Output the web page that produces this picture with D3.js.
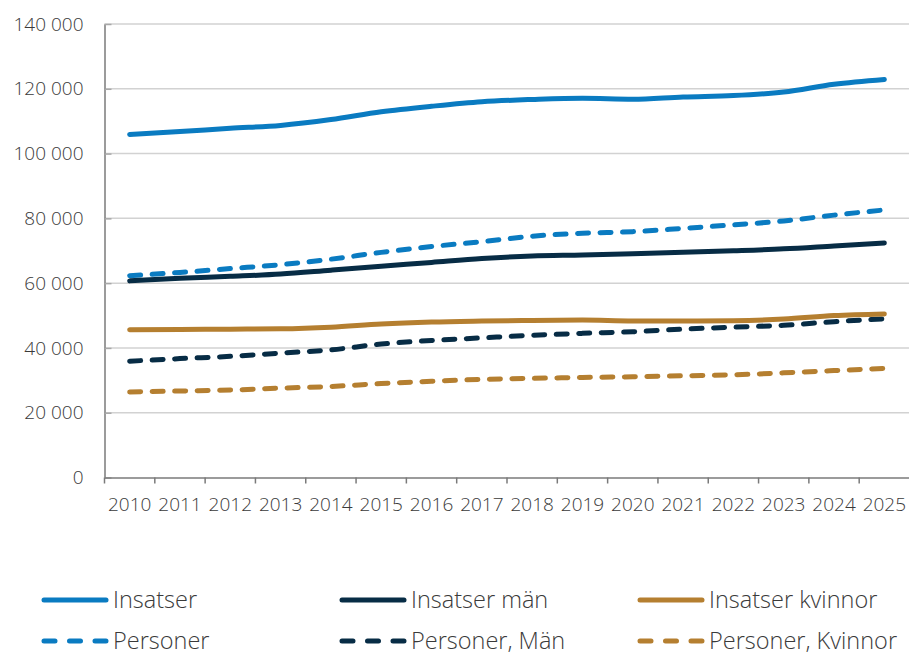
<!DOCTYPE html>
<html>
<head>
    <meta charset='utf-8'>
    <title>Insatser och personer</title>
    <style>
        body { margin: 0; background: #fff; }
        svg { display: block; }
    </style>
</head>
<body>
<svg id="chart" width="909" height="655"></svg>
<script src="https://d3js.org/d3.v7.min.js"></script>
<script>
    const years = ["2010", "2011", "2012", "2013", "2014", "2015", "2016", "2017",
        "2018", "2019", "2020", "2021", "2022", "2023", "2024", "2025"]

    const insatser = [105900, 106800, 107800, 108700, 110500, 112900, 114600, 116000,
        116700, 117100, 116800, 117500, 117900, 119000, 121400, 122900]
    const insatserMan = [60700, 61500, 62100, 62800, 64000, 65200, 66400, 67600,
        68400, 68700, 69100, 69500, 70000, 70600, 71500, 72400]
    const insatserKvinnor = [45600, 45700, 45800, 45900, 46400, 47400, 48000, 48300,
        48500, 48600, 48300, 48300, 48400, 48900, 50000, 50500]
    const personer = [62300, 63300, 64500, 65700, 67400, 69500, 71300, 72800,
        74500, 75400, 75900, 76900, 78000, 79200, 81000, 82600]
    const personerMan = [35900, 36700, 37400, 38400, 39400, 41200, 42300, 43100,
        43900, 44500, 45000, 45800, 46400, 47000, 48100, 49000]
    const personerKvinnor = [26400, 26700, 27000, 27600, 28100, 29000, 29700, 30300,
        30600, 30900, 31100, 31400, 31700, 32300, 33000, 33700]

    const yTicks = [0, 20000, 40000, 60000, 80000, 100000, 120000, 140000]

    const blue = "#0a7bc1"
    const navy = "#072c45"
    const gold = "#b57f30"

    const series = [
        {name: "Insatser", values: insatser, color: blue, dashed: false},
        {name: "Insatser män", values: insatserMan, color: navy, dashed: false},
        {name: "Insatser kvinnor", values: insatserKvinnor, color: gold, dashed: false},
        {name: "Personer", values: personer, color: blue, dashed: true},
        {name: "Personer, Män", values: personerMan, color: navy, dashed: true},
        {name: "Personer, Kvinnor", values: personerKvinnor, color: gold, dashed: true}
    ]

    const margin = {top: 24, right: 0, bottom: 177.5, left: 104.5}
    const width = 909
    const height = 655
    const font = "'Open Sans', 'Noto Sans', sans-serif"
    const textColor = "#3a3a3a"

    const svg = d3.select("#chart")

    const x = d3.scaleBand()
        .domain(years)
        .range([margin.left, 909.5])
        .paddingInner(0)
        .paddingOuter(0)

    const y = d3.scaleLinear()
        .domain([0, 140000])
        .range([height - margin.bottom, margin.top])

    const fmt = d => d === 0 ? "0" : d3.format(",")(d).replace(/,/g, " ")

    // grid
    svg.append("g")
        .selectAll("line")
        .data(yTicks.slice(1))
        .join("line")
        .attr("x1", margin.left)
        .attr("x2", width)
        .attr("y1", d => y(d))
        .attr("y2", d => y(d))
        .attr("stroke", "#d2d2d2")
        .attr("stroke-width", 1.5)

    // y axis
    const yAxis = svg.append("g")
        .attr("transform", `translate(${margin.left},0)`)
        .call(d3.axisLeft(y).tickValues(yTicks).tickFormat(fmt)
            .tickSizeInner(-7).tickSizeOuter(0).tickPadding(21))
    yAxis.select(".domain").attr("stroke", "#7a7a7a").attr("stroke-width", 1.5)
    yAxis.selectAll(".tick line").attr("stroke", "#a8a8a8").attr("stroke-width", 1.5)
    yAxis.selectAll("text")
        .attr("font-family", font)
        .attr("font-weight", 300)
        .attr("font-size", 19)
        .attr("fill", textColor)

    // x axis
    const xAxis = svg.append("g")
        .attr("transform", `translate(0,${y(0)})`)
        .call(d3.axisBottom(x).tickSize(0).tickPadding(20))
    xAxis.select(".domain").attr("stroke", "#7a7a7a").attr("stroke-width", 1.5)
    xAxis.selectAll("text")
        .attr("font-family", font)
        .attr("font-weight", 300)
        .attr("font-size", 19)
        .attr("fill", textColor)
    xAxis.append("g")
        .selectAll("line")
        .data(years)
        .join("line")
        .attr("x1", d => x(d))
        .attr("x2", d => x(d))
        .attr("y1", 0)
        .attr("y2", 6)
        .attr("stroke", "#7a7a7a")
        .attr("stroke-width", 1.5)

    // lines
    const line = d3.line()
        .x((d, i) => x(years[i]) + x.bandwidth() / 2)
        .y(d => y(d))
        .curve(d3.curveMonotoneX)

    svg.append("g")
        .selectAll("path")
        .data(series.slice().reverse())
        .join("path")
        .attr("d", d => line(d.values))
        .attr("fill", "none")
        .attr("stroke", d => d.color)
        .attr("stroke-width", 5)
        .attr("stroke-linecap", "round")
        .attr("stroke-linejoin", "round")
        .attr("stroke-dasharray", d => d.dashed ? "11,11.5" : null)

    // legend
    const legend = svg.append("g")
        .selectAll("g")
        .data(series)
        .join("g")
        .attr("transform", (d, i) => `translate(${44 + (i % 3) * 298},${i < 3 ? 600 : 641})`)

    legend.append("line")
        .attr("x1", 0)
        .attr("x2", 62)
        .attr("stroke", d => d.color)
        .attr("stroke-width", 5)
        .attr("stroke-linecap", "round")
        .attr("stroke-dasharray", d => d.dashed ? "11,14.5" : null)

    legend.append("text")
        .attr("x", 69)
        .attr("dy", "0.33em")
        .attr("font-family", font)
        .attr("font-weight", 300)
        .attr("font-size", 23.5)
        .attr("fill", textColor)
        .text(d => d.name)
</script>
</body>
</html>
